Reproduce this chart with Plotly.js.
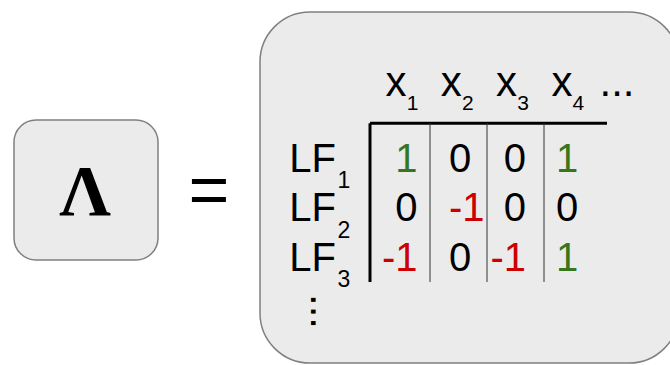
<!DOCTYPE html>
<html><head><meta charset="utf-8">
<script src="https://cdn.plot.ly/plotly-3.0.1.min.js"></script>
<style>html,body{margin:0;padding:0;background:#fff;overflow:hidden}#chart{width:670px;height:365px}</style>
</head><body><div id="chart"></div>
<script>
// ---------- data ----------
const lhsSymbol = 'Λ';
const columnLabels = ['x1', 'x2', 'x3', 'x4'];
const rowLabels = ['LF1', 'LF2', 'LF3'];
const lfRow1 = [1, 0, 0, 1];
const lfRow2 = [0, -1, 0, 0];
const lfRow3 = [-1, 0, -1, 1];
const lfMatrix = [lfRow1, lfRow2, lfRow3];

// ---------- style / layout constants ----------
const W = 670, H = 365;
const SANS = 'Liberation Sans, Arial, sans-serif';
const SERIF = 'Liberation Serif, Times New Roman, serif';
const boxFill = '#ebebeb', boxLine = '#808080';
const valueColor = v => v > 0 ? '#38761d' : (v < 0 ? '#cc0000' : '#000000');
const mid = (baseline, fs) => baseline - 0.25 * fs;   // scatter "middle" text: baseline = y + 0.25em
const splitLabel = s => { const m = s.match(/^(\D+)(\d+)$/); return [m[1], m[2]]; };

// header
const headBase = 95.5, headFs = 42, headSubFs = 21, headSubDrop = 14.5;
const headX0 = 396, headStep = 55.3, headSubDx = 16.5;
// rows
const rowBase0 = 171.5, rowStep = 49.5, rowFs = 40, rowSubFs = 23, rowSubDrop = 16.5;
const rowLabelX = 312.7, rowSubX = 344;
// cells
const cellEdgeX = [417.5, 449, 526, 556];
const cellAlign = ['middle left', 'middle right', 'middle left', 'middle right'];
// grid
const gridX0 = 370, firstColW = 60, colW = 57, gridTop = 123.3, gridBottom = 282, ruleRight = 607;

const nCols = columnLabels.length, nRows = rowLabels.length;
const traces = [];
const txt = (x, y, text, fs, color, family, pos, weight) => ({
  type: 'scatter', mode: 'text', x, y, text, hoverinfo: 'skip', showlegend: false,
  textposition: pos || 'middle center',
  textfont: { size: fs, color: color || '#000', family: family || SANS, weight: weight || 400 },
  cliponaxis: false
});

// Lambda and equals
traces.push(txt([85], [mid(215, 72)], [lhsSymbol], 72, '#000', SERIF, 'middle center', 700));
traces.push(txt([209], [mid(214, 70)], ['='], 70, '#000', SANS));

// header
const hx = columnLabels.map((_, j) => headX0 + headStep * j);
traces.push(txt(hx, columnLabels.map(() => mid(headBase, headFs)), columnLabels.map(l => splitLabel(l)[0]), headFs));
traces.push(txt(hx.map(x => x + headSubDx), columnLabels.map(() => mid(headBase + headSubDrop, headSubFs)), columnLabels.map(l => splitLabel(l)[1]), headSubFs));
traces.push(txt([617], [mid(headBase, headFs)], ['...'], headFs));

// row labels
const rb = rowLabels.map((_, i) => rowBase0 + rowStep * i);
traces.push(txt(rowLabels.map(() => rowLabelX), rb.map(b => mid(b, rowFs)), rowLabels.map(l => splitLabel(l)[0]), rowFs));
traces.push(txt(rowLabels.map(() => rowSubX), rb.map(b => mid(b + rowSubDrop, rowSubFs)), rowLabels.map(l => splitLabel(l)[1]), rowSubFs));

// cell values
const cx = [], cy = [], ct = [], cc = [], cp = [];
lfMatrix.forEach((row, i) => row.forEach((v, j) => {
  cx.push(cellEdgeX[j]); cy.push(mid(rb[i], rowFs)); ct.push(String(v)); cc.push(valueColor(v)); cp.push(cellAlign[j]);
}));
const valTrace = txt(cx, cy, ct, rowFs);
valTrace.textfont.color = cc;
valTrace.textposition = cp;
traces.push(valTrace);

// shapes
const K = 0.5523;
function roundRect(x0, y0, x1, y1, r) {
  const k = r * K;
  return `M ${x0 + r},${y0} L ${x1 - r},${y0} C ${x1 - r + k},${y0} ${x1},${y0 + r - k} ${x1},${y0 + r} ` +
    `L ${x1},${y1 - r} C ${x1},${y1 - r + k} ${x1 - r + k},${y1} ${x1 - r},${y1} ` +
    `L ${x0 + r},${y1} C ${x0 + r - k},${y1} ${x0},${y1 - r + k} ${x0},${y1 - r} ` +
    `L ${x0},${y0 + r} C ${x0},${y0 + r - k} ${x0 + r - k},${y0} ${x0 + r},${y0} Z`;
}
const shapes = [
  { type: 'path', path: roundRect(14, 120, 158, 260, 22), xref: 'x', yref: 'y', fillcolor: boxFill, line: { color: boxLine, width: 1.5 }, layer: 'below' },
  { type: 'path', path: roundRect(260, 12, 679, 363, 50), xref: 'x', yref: 'y', fillcolor: boxFill, line: { color: boxLine, width: 1.5 }, layer: 'below' },
  { type: 'line', xref: 'x', yref: 'y', x0: gridX0, x1: ruleRight, y0: gridTop, y1: gridTop, line: { color: '#000', width: 3 } },
  { type: 'line', xref: 'x', yref: 'y', x0: gridX0, x1: gridX0, y0: gridTop, y1: gridBottom, line: { color: '#000', width: 3 } }
];
for (let j = 0; j < nCols - 1; j++) {
  const x = gridX0 + firstColW + colW * j;
  shapes.push({ type: 'line', xref: 'x', yref: 'y', x0: x, x1: x, y0: gridTop, y1: gridBottom, line: { color: '#333', width: 1 } });
}

const annotations = [
  { xref: 'x', yref: 'y', x: 325.5, y: 311.5, text: '...', showarrow: false, textangle: 90, font: { family: SANS, size: 42, color: '#000' } }
];

const layout = {
  width: W, height: H, margin: { l: 0, r: 0, t: 0, b: 0, pad: 0 },
  paper_bgcolor: '#ffffff', plot_bgcolor: '#ffffff',
  xaxis: { range: [0, W], visible: false, fixedrange: true },
  yaxis: { range: [H, 0], visible: false, fixedrange: true },
  showlegend: false, shapes, annotations
};
Plotly.newPlot('chart', traces, layout, { staticPlot: true, displayModeBar: false });
</script>
</body></html>
